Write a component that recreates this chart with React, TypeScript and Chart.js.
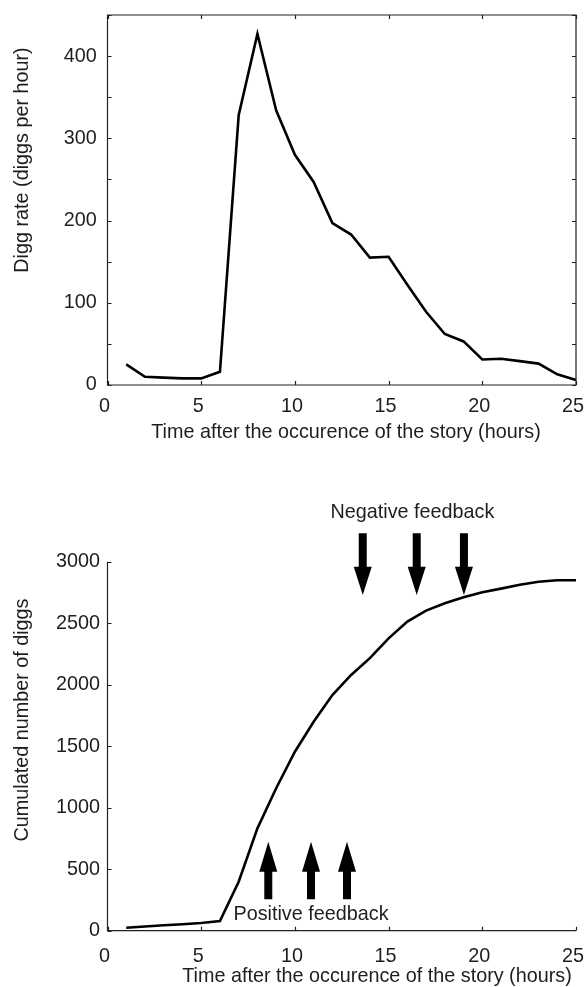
import React, { useEffect, useRef } from 'react';
import { Chart, registerables } from 'chart.js';

Chart.register(...registerables);

// ---- data ----
const hours = [1, 2, 3, 4, 5, 6, 7, 8, 9, 10, 11, 12, 13, 14, 15, 16, 17, 18, 19, 20, 21, 22, 23, 24, 25];
const diggRate = [25, 10, 9, 8, 8, 16, 328, 427, 334, 280, 247, 197, 183, 155, 156, 122, 89, 62, 53, 31, 32, 29, 26, 13, 6];
const cumulatedDiggs = [24, 34, 44, 53, 62, 78, 398, 832, 1158, 1455, 1699, 1916, 2079, 2216, 2377, 2513, 2602, 2662, 2711, 2751, 2781, 2813, 2837, 2849, 2849];

const xTitle = 'Time after the occurence of the story (hours)';
const rateTitle = 'Digg rate (diggs per hour)';
const cumTitle = 'Cumulated number of diggs';
const negativeLabel = 'Negative feedback';
const positiveLabel = 'Positive feedback';
// arrow positions (hours) and extents (data units of the cumulative chart)
const negativeArrowHours = [13.62, 16.5, 19.02];
const negativeArrowY = { tail: 3231, headBase: 2959, tip: 2730 };
const positiveArrowHours = [8.58, 10.86, 12.78];
const positiveArrowY = { tail: 255, headBase: 480, tip: 724 };
const negativeLabelPos = { x: 16.27, y: 3396 };
const positiveLabelPos = { x: 10.86, y: 128 };

const FONT = "'Liberation Sans', Arial, Helvetica, sans-serif";
const FSIZE = 19.8;
const TEXT = '#1e1e1e';
const AXIS = '#222222';

type FrameCfg = {
  box: boolean;
  xTitlePos: [number, number]; // relative to chartArea left / bottom
  yTitlePos: [number, number]; // relative to chartArea left / top
  yTitle: string;
  annotations?: boolean;
};

function drawArrow(ctx: CanvasRenderingContext2D, x: number, yTail: number, yBase: number, yTip: number) {
  const sw = 4;
  const hw = 9;
  ctx.beginPath();
  ctx.moveTo(x - sw, yTail);
  ctx.lineTo(x + sw, yTail);
  ctx.lineTo(x + sw, yBase);
  ctx.lineTo(x + hw, yBase);
  ctx.lineTo(x, yTip);
  ctx.lineTo(x - hw, yBase);
  ctx.lineTo(x - sw, yBase);
  ctx.closePath();
  ctx.fill();
}

function framePlugin(cfg: FrameCfg) {
  return {
    id: 'frame',
    afterDraw(chart: any) {
      const { ctx, chartArea: a } = chart;
      const x = chart.scales.x;
      const y = chart.scales.y;
      ctx.save();
      ctx.strokeStyle = AXIS;
      ctx.lineWidth = 1.2;
      ctx.beginPath();
      if (cfg.box) {
        ctx.rect(a.left, a.top, a.right - a.left, a.bottom - a.top);
      } else {
        ctx.moveTo(a.left, a.top);
        ctx.lineTo(a.left, a.bottom);
        ctx.lineTo(a.right, a.bottom);
      }
      const tl = 4;
      y.ticks.forEach((t: any) => {
        const py = Math.round(y.getPixelForValue(t.value)) + 0.5;
        ctx.moveTo(a.left, py);
        ctx.lineTo(a.left + tl, py);
        if (cfg.box) {
          ctx.moveTo(a.right, py);
          ctx.lineTo(a.right - tl, py);
        }
      });
      x.ticks.forEach((t: any) => {
        const px = Math.round(x.getPixelForValue(t.value)) + 0.5;
        ctx.moveTo(px, a.bottom);
        ctx.lineTo(px, a.bottom - tl);
        if (cfg.box) {
          ctx.moveTo(px, a.top);
          ctx.lineTo(px, a.top + tl);
        }
      });
      ctx.stroke();

      ctx.fillStyle = TEXT;
      ctx.font = `${FSIZE}px ${FONT}`;
      ctx.textAlign = 'center';
      ctx.textBaseline = 'middle';
      ctx.fillText(xTitle, a.left + cfg.xTitlePos[0], a.bottom + cfg.xTitlePos[1]);
      ctx.save();
      ctx.translate(a.left + cfg.yTitlePos[0], a.top + cfg.yTitlePos[1]);
      ctx.rotate(-Math.PI / 2);
      ctx.fillText(cfg.yTitle, 0, 0);
      ctx.restore();

      if (cfg.annotations) {
        ctx.fillStyle = '#000';
        negativeArrowHours.forEach((h) => {
          const px = x.getPixelForValue(h);
          drawArrow(ctx, px, y.getPixelForValue(negativeArrowY.tail), y.getPixelForValue(negativeArrowY.headBase), y.getPixelForValue(negativeArrowY.tip));
        });
        positiveArrowHours.forEach((h) => {
          const px = x.getPixelForValue(h);
          drawArrow(ctx, px, y.getPixelForValue(positiveArrowY.tail), y.getPixelForValue(positiveArrowY.headBase), y.getPixelForValue(positiveArrowY.tip));
        });
        ctx.fillStyle = TEXT;
        ctx.fillText(negativeLabel, x.getPixelForValue(negativeLabelPos.x), y.getPixelForValue(negativeLabelPos.y));
        ctx.fillText(positiveLabel, x.getPixelForValue(positiveLabelPos.x), y.getPixelForValue(positiveLabelPos.y));
      }
      ctx.restore();
    },
  };
}

function makeConfig(opts: {
  values: number[];
  yMax: number;
  yStep: number;
  yLabelEvery: number;
  padTop: number;
  xHeight: number;
  xPad: number;
  yPad: number;
  frame: FrameCfg;
}) {
  const font = { family: FONT, size: FSIZE };
  const zeroPad = (s: any) => {
    s.paddingTop = 0;
    s.paddingBottom = 0;
    s.paddingLeft = 0;
    s.paddingRight = 0;
  };
  return {
    type: 'line' as const,
    data: {
      datasets: [
        {
          data: hours.map((h, i) => ({ x: h, y: opts.values[i] })),
          borderColor: '#000',
          borderWidth: 2.6,
          pointRadius: 0,
          fill: false,
          tension: 0,
          clip: false as any,
        },
      ],
    },
    options: {
      animation: false as const,
      responsive: false,
      maintainAspectRatio: false,
      events: [] as any[],
      layout: { padding: { top: opts.padTop, right: 11, left: 0, bottom: 0 } },
      plugins: { legend: { display: false }, tooltip: { enabled: false }, title: { display: false } },
      scales: {
        x: {
          type: 'linear' as const,
          min: 0,
          max: 25,
          ticks: { stepSize: 5, padding: opts.xPad, labelOffset: -3, font, color: TEXT, maxRotation: 0 },
          grid: { display: false, drawTicks: false },
          border: { display: false },
          afterFit: (s: any) => {
            s.height = opts.xHeight;
            zeroPad(s);
          },
        },
        y: {
          type: 'linear' as const,
          min: 0,
          max: opts.yMax,
          ticks: {
            stepSize: opts.yStep,
            padding: opts.yPad,
            font,
            color: TEXT,
            callback: (v: any) => (Number(v) % opts.yLabelEvery === 0 ? String(v) : ''),
          },
          grid: { display: false, drawTicks: false },
          border: { display: false },
          afterFit: (s: any) => {
            s.width = 107.5;
            zeroPad(s);
          },
        },
      },
    },
    plugins: [framePlugin(opts.frame)],
  };
}

function ChartCanvas({ config, width, height, top }: { config: any; width: number; height: number; top: number }) {
  const ref = useRef<HTMLCanvasElement | null>(null);
  useEffect(() => {
    if (!ref.current) return;
    const chart = new Chart(ref.current, config);
    return () => chart.destroy();
  }, []);
  return (
    <canvas
      ref={ref}
      width={width}
      height={height}
      style={{ position: 'absolute', left: 0, top, width, height, display: 'block' }}
    />
  );
}

export default function App() {
  const topCfg = makeConfig({
    values: diggRate,
    yMax: 450,
    yStep: 50,
    yLabelEvery: 100,
    padTop: 15,
    xHeight: 75,
    xPad: 10,
    yPad: 10.8,
    frame: { box: true, xTitlePos: [238.5, 48], yTitlePos: [-84.5, 145], yTitle: rateTitle },
  });
  const bottomCfg = makeConfig({
    values: cumulatedDiggs,
    yMax: 3000,
    yStep: 500,
    yLabelEvery: 500,
    padTop: 101.7,
    xHeight: 56.3,
    xPad: 14,
    yPad: 7.5,
    frame: { box: false, xTitlePos: [269.5, 46.3], yTitlePos: [-84.5, 158.3], yTitle: cumTitle, annotations: true },
  });
  return (
    <div style={{ position: 'absolute', left: 0, top: 0, width: 587, height: 987, background: '#fff' }}>
      <ChartCanvas config={topCfg} width={587} height={460} top={0} />
      <ChartCanvas config={bottomCfg} width={587} height={527} top={460} />
    </div>
  );
}
